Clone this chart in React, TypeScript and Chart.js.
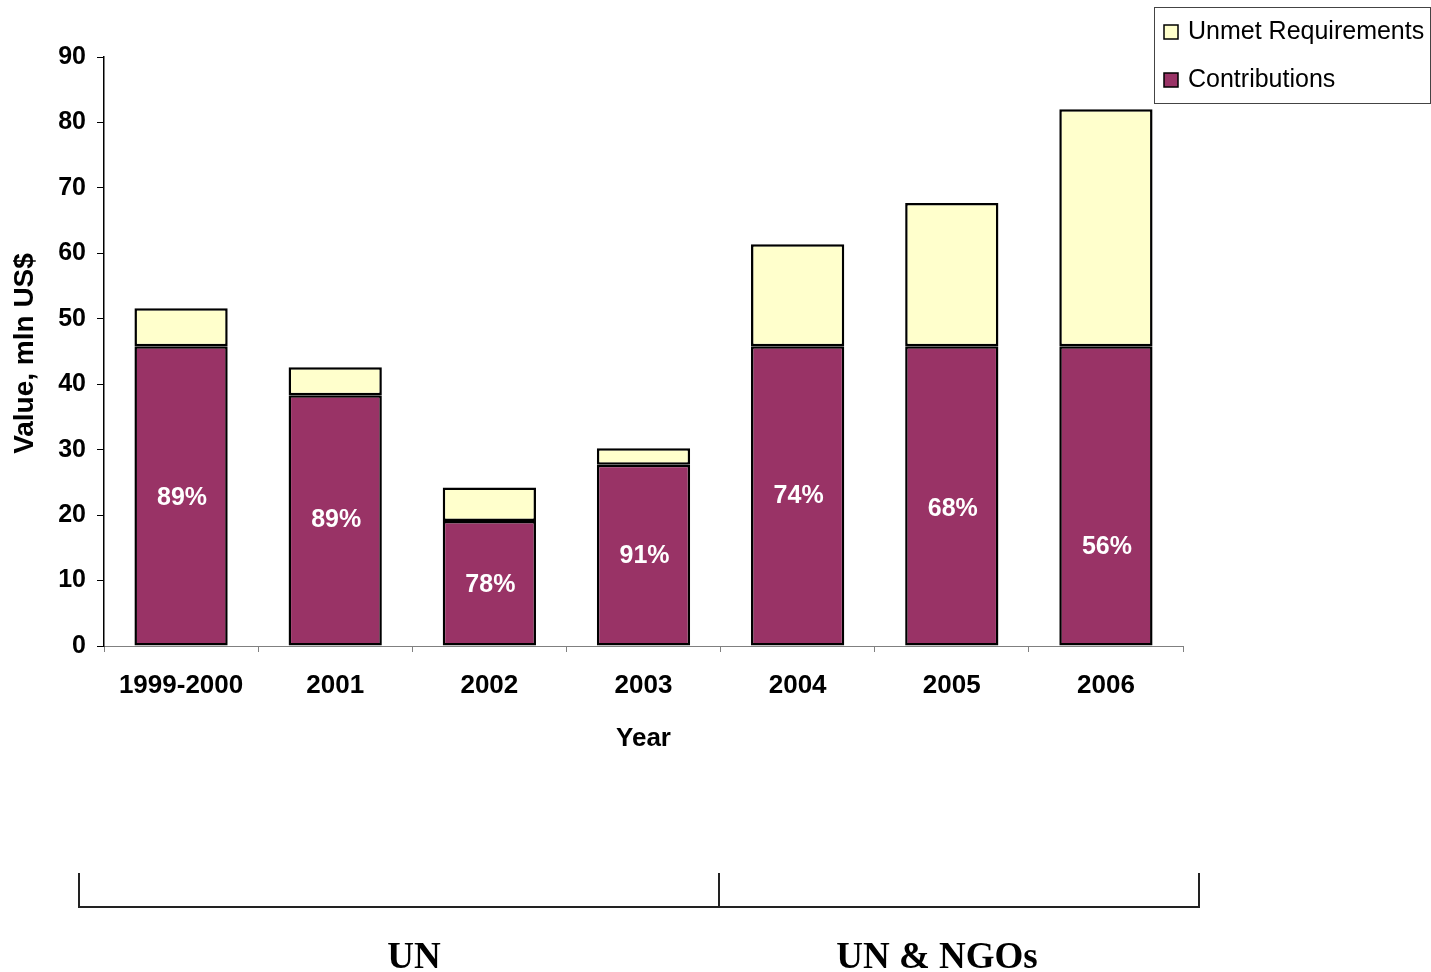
import React, { useEffect, useRef } from "react";
import { Chart, registerables } from "chart.js";

Chart.register(...registerables);

const categories = ["1999-2000", "2001", "2002", "2003", "2004", "2005", "2006"];
const contributions = [45.8, 38.3, 19.1, 27.7, 45.8, 45.8, 45.8];
const unmetRequirements = [5.8, 4.3, 5.1, 2.5, 15.6, 21.9, 36.2];
const coverageLabels = ["89%", "89%", "78%", "91%", "74%", "68%", "56%"];
const coverageLabelAt = [22.8, 19.4, 9.5, 13.9, 23.0, 21.0, 15.3];
const groupLabels = ["UN", "UN & NGOs"];
const legendLabels = ["Unmet Requirements", "Contributions"];

const MAROON = "#993366";
const YELLOW = "#FFFFCC";
const SANS = "'Liberation Sans', Arial, sans-serif";
const SERIF = "'Liberation Serif', 'Times New Roman', serif";

const overlayPlugin = {
  id: "overlay",
  afterDatasetsDraw(chart: any) {
    const ctx = chart.ctx as CanvasRenderingContext2D;
    const x = chart.scales.x;
    const y = chart.scales.y;
    ctx.save();
    ctx.fillStyle = "#ffffff";
    ctx.font = `bold 25px ${SANS}`;
    ctx.textAlign = "center";
    ctx.textBaseline = "middle";
    coverageLabels.forEach((t, i) => {
      ctx.fillText(t, x.getPixelForValue(i) + 1, y.getPixelForValue(coverageLabelAt[i]) + 1);
    });
    ctx.restore();
  },
  afterDraw(chart: any) {
    const ctx = chart.ctx as CanvasRenderingContext2D;
    const area = chart.chartArea;
    ctx.save();
    ctx.fillStyle = "#000";
    ctx.font = `bold 26px ${SANS}`;
    ctx.textAlign = "center";
    ctx.textBaseline = "middle";
    ctx.fillText("Year", (area.left + area.right) / 2, 739);
    ctx.save();
    ctx.font = `bold 28px ${SANS}`;
    ctx.translate(25, (area.top + area.bottom) / 2 + 2);
    ctx.rotate(-Math.PI / 2);
    ctx.fillText("Value, mln US$", 0, 0);
    ctx.restore();

    // legend
    ctx.fillStyle = "#fff";
    ctx.fillRect(1154.5, 7.5, 276, 96);
    ctx.strokeStyle = "#444";
    ctx.lineWidth = 1;
    ctx.strokeRect(1154.5, 7.5, 276, 96);
    const sw = [YELLOW, MAROON];
    const ly = [32, 80];
    ctx.font = `25px ${SANS}`;
    ctx.textAlign = "left";
    legendLabels.forEach((t, i) => {
      ctx.fillStyle = sw[i];
      ctx.fillRect(1164, ly[i] - 7, 14, 14);
      ctx.strokeStyle = "#000";
      ctx.lineWidth = 1.5;
      ctx.strokeRect(1164, ly[i] - 7, 14, 14);
      ctx.fillStyle = "#000";
      ctx.fillText(t, 1188, ly[i]);
    });

    // group brackets
    ctx.strokeStyle = "#222";
    ctx.lineWidth = 2;
    ctx.beginPath();
    ctx.moveTo(79, 873);
    ctx.lineTo(79, 907);
    ctx.lineTo(1199, 907);
    ctx.lineTo(1199, 873);
    ctx.moveTo(719, 873);
    ctx.lineTo(719, 907);
    ctx.stroke();

    ctx.fillStyle = "#000";
    ctx.font = `bold 37px ${SERIF}`;
    ctx.textAlign = "center";
    ctx.textBaseline = "alphabetic";
    ctx.fillText(groupLabels[0], 414, 968);
    ctx.fillText(groupLabels[1], 937, 968);
    ctx.restore();
  },
};

export default function App() {
  const ref = useRef<HTMLCanvasElement | null>(null);

  useEffect(() => {
    document.body.style.margin = "0";
    document.body.style.overflow = "hidden";
    const canvas = ref.current;
    if (!canvas) return;
    const chart = new Chart(canvas, {
      type: "bar",
      data: {
        labels: categories,
        datasets: [
          {
            label: "Contributions",
            data: contributions,
            backgroundColor: MAROON,
            borderColor: "#000",
            borderWidth: 2.5,
            borderSkipped: false,
            barPercentage: 0.605,
            categoryPercentage: 1,
          },
          {
            label: "Unmet Requirements",
            data: unmetRequirements,
            backgroundColor: YELLOW,
            borderColor: "#000",
            borderWidth: 2.5,
            borderSkipped: false,
            barPercentage: 0.605,
            categoryPercentage: 1,
          },
        ],
      },
      options: {
        responsive: false,
        animation: false,
        devicePixelRatio: 1,
        layout: { padding: { top: 57, right: 248, bottom: 0, left: 0 } },
        plugins: {
          legend: { display: false },
          tooltip: { enabled: false },
          title: { display: false },
        },
        scales: {
          x: {
            stacked: true,
            offset: true,
            grid: {
              display: true,
              drawOnChartArea: false,
              drawTicks: true,
              tickLength: 6,
              offset: true,
              color: "#808080",
              lineWidth: 1,
            },
            border: { display: true, color: "#808080", width: 1 },
            ticks: {
              color: "#000",
              font: { family: SANS, size: 26, weight: "bold" },
              padding: 18,
              maxRotation: 0,
              autoSkip: false,
            },
            afterFit(scale: any) {
              scale.height = 326;
            },
          },
          y: {
            stacked: true,
            min: 0,
            max: 90,
            grid: {
              display: true,
              drawOnChartArea: false,
              drawTicks: true,
              tickLength: 7,
              color: "#000",
              lineWidth: 1,
            },
            border: { display: true, color: "#000", width: 1.5 },
            ticks: {
              stepSize: 10,
              color: "#000",
              font: { family: SANS, size: 25, weight: "bold" },
              padding: 11,
            },
            afterFit(scale: any) {
              scale.width = 104;
            },
          },
        },
      } as any,
      plugins: [overlayPlugin],
    });
    return () => chart.destroy();
  }, []);

  return (
    <div style={{ width: 1431, height: 972, background: "#fff" }}>
      <canvas ref={ref} width={1431} height={972} style={{ display: "block", width: 1431, height: 972 }} />
    </div>
  );
}
